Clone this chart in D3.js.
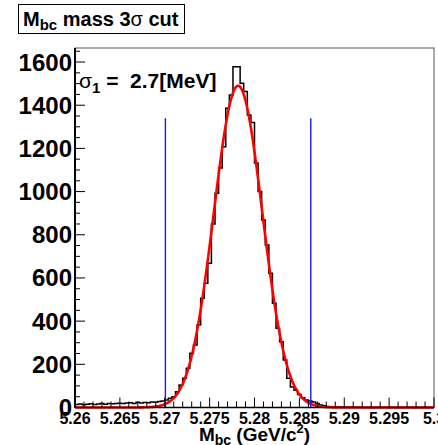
<!DOCTYPE html>
<html>
<head>
<meta charset="utf-8">
<script src="https://cdn.jsdelivr.net/npm/d3@7"></script>
<style>
  body { margin: 0; background: #fff; }
  svg { display: block; font-family: "Liberation Sans", Arial, sans-serif; }
</style>
</head>
<body>
<svg id="chart"></svg>
<script>
// Mbc histogram, 100 bins from 5.26 to 5.30 GeV/c^2
var binStart = 5.26,
  binWidth = 0.0004;
var counts = [
  14, 16, 13, 15, 17, 14, 16, 18, 15, 19,
  17, 18, 20, 18, 21, 22, 19, 24, 21, 23,
  22, 26, 24, 28, 30, 35, 43, 50, 73, 104,
  135, 182, 251, 289, 382, 506, 575, 668, 850, 992,
  1109, 1208, 1386, 1447, 1578, 1578, 1502, 1463, 1355, 1320,
  1132, 1000, 868, 753, 622, 483, 367, 305, 220, 135,
  95, 80, 60, 45, 35, 30, 25, 18, 12, 8,
  5, 4, 3, 3, 2, 2, 1, 2, 1, 1,
  0, 1, 0, 0, 1, 0, 0, 0, 1, 0,
  0, 0, 0, 1, 0, 0, 0, 0, 0, 0
];

// gaussian fit result
var fitMean = 5.27817,
  fitSigma = 0.0027,
  fitAmp = 1490;

// 3 sigma cut window
var cutLines = [5.27007, 5.28627];
var cutHeight = 1340;

var xTickValues = [5.26, 5.265, 5.27, 5.275, 5.28, 5.285, 5.29, 5.295, 5.3];
var xTickLabels = ["5.26", "5.265", "5.27", "5.275", "5.28", "5.285", "5.29", "5.295", "5.3"];
var yTickValues = [0, 200, 400, 600, 800, 1000, 1200, 1400, 1600];

var width = 438,
  height = 445,
  margin = { top: 48, right: 4, bottom: 37.5, left: 75 };

var svg = d3.select("#chart").attr("width", width).attr("height", height);

var x = d3
  .scaleLinear()
  .domain([5.26, 5.3])
  .range([margin.left, width - margin.right]);

var y = d3
  .scaleLinear()
  .domain([0, 1665])
  .range([height - margin.bottom, margin.top]);

var x0 = x.range()[0],
  x1 = x.range()[1],
  y0 = y.range()[0],
  y1 = y.range()[1];

// frame
svg
  .append("rect")
  .attr("x", x0)
  .attr("y", y1)
  .attr("width", x1 - x0)
  .attr("height", y0 - y1)
  .attr("fill", "#fff")
  .attr("stroke", "#555")
  .attr("stroke-width", 1);

// histogram outline
var bins = counts.map(function(c, i) {
  return { lo: binStart + i * binWidth, hi: binStart + (i + 1) * binWidth, n: c };
});
var histPath = "M" + x(bins[0].lo) + "," + y(0);
bins.forEach(function(b) {
  histPath += "L" + x(b.lo) + "," + y(b.n) + "L" + x(b.hi) + "," + y(b.n);
});
histPath += "L" + x(bins[bins.length - 1].hi) + "," + y(0);

svg
  .append("path")
  .attr("d", histPath)
  .attr("fill", "none")
  .attr("stroke", "#000")
  .attr("stroke-width", 1.5);

// fit curve
var fitX = d3.range(5.26, 5.30001, 0.00005);
var line = d3
  .line()
  .x(function(d) { return x(d); })
  .y(function(d) {
    var t = (d - fitMean) / fitSigma;
    return y(fitAmp * Math.exp(-0.5 * t * t));
  });

svg
  .append("path")
  .datum(fitX)
  .attr("d", line)
  .attr("fill", "none")
  .attr("stroke", "#ff0000")
  .attr("stroke-width", 2.6);

// cut lines
svg
  .selectAll(".cut")
  .data(cutLines)
  .enter()
  .append("line")
  .attr("class", "cut")
  .attr("x1", function(d) { return x(d); })
  .attr("x2", function(d) { return x(d); })
  .attr("y1", y(0))
  .attr("y2", y(cutHeight))
  .attr("stroke", "#1a1aff")
  .attr("stroke-width", 1.4);

// y axis
svg
  .append("line")
  .attr("x1", x0)
  .attr("x2", x0)
  .attr("y1", y1)
  .attr("y2", y0)
  .attr("stroke", "#000")
  .attr("stroke-width", 2);

svg
  .selectAll(".ytick")
  .data(d3.range(0, 1651, 50))
  .enter()
  .append("line")
  .attr("x1", x0)
  .attr("x2", function(d) { return x0 + (d % 200 === 0 ? 10 : 5); })
  .attr("y1", function(d) { return y(d); })
  .attr("y2", function(d) { return y(d); })
  .attr("stroke", "#000")
  .attr("stroke-width", 1);

svg
  .selectAll(".ylab")
  .data(yTickValues)
  .enter()
  .append("text")
  .attr("x", x0 - 3)
  .attr("y", function(d) { return y(d) + 8.5; })
  .attr("text-anchor", "end")
  .attr("font-size", 24)
  .attr("font-weight", "bold")
  .text(function(d) { return d; });

// x axis
svg
  .append("line")
  .attr("x1", x0)
  .attr("x2", x1)
  .attr("y1", y0)
  .attr("y2", y0)
  .attr("stroke", "#000")
  .attr("stroke-width", 1.5);

svg
  .selectAll(".xtick")
  .data(d3.range(0, 41))
  .enter()
  .append("line")
  .attr("x1", function(d) { return x(5.26 + d * 0.001); })
  .attr("x2", function(d) { return x(5.26 + d * 0.001); })
  .attr("y1", y0)
  .attr("y2", function(d) { return y0 - (d % 5 === 0 ? 10 : 6); })
  .attr("stroke", "#000")
  .attr("stroke-width", 1);

svg
  .selectAll(".xlab")
  .data(xTickValues)
  .enter()
  .append("text")
  .attr("x", function(d) { return x(d); })
  .attr("y", y0 + 16)
  .attr("text-anchor", "middle")
  .attr("font-size", 16)
  .attr("font-weight", "bold")
  .text(function(d, i) { return xTickLabels[i]; });

// x axis title
var xt = svg
  .append("text")
  .attr("x", (x0 + x1) / 2)
  .attr("y", 441)
  .attr("text-anchor", "middle")
  .attr("font-size", 19)
  .attr("font-weight", "bold");
xt.append("tspan").text("M");
xt.append("tspan").attr("font-size", 14).attr("dy", 4).text("bc");
xt.append("tspan").attr("dy", -4).text(" (GeV/c");
xt.append("tspan").attr("font-size", 13).attr("dy", -8).text("2");
xt.append("tspan").attr("dy", 8).text(")");

// sigma label
var sl = svg
  .append("text")
  .attr("x", 79)
  .attr("y", 88)
  .attr("font-size", 21)
  .attr("font-weight", "bold");
sl.append("tspan").attr("font-weight", "normal").text("σ");
sl.append("tspan").attr("font-size", 15).attr("dy", 5).text("1");
sl.append("tspan").attr("dy", -5).attr("xml:space", "preserve").text(" =  2.7[MeV]");

// title box
svg
  .append("rect")
  .attr("x", 18.5)
  .attr("y", 4.5)
  .attr("width", 166)
  .attr("height", 29)
  .attr("fill", "#fff")
  .attr("stroke", "#000")
  .attr("stroke-width", 1);

var tt = svg
  .append("text")
  .attr("x", 23)
  .attr("y", 26)
  .attr("font-size", 20)
  .attr("font-weight", "bold");
tt.append("tspan").text("M");
tt.append("tspan").attr("font-size", 15).attr("dy", 4).text("bc");
tt.append("tspan").attr("dy", -4).text(" mass 3");
tt.append("tspan").attr("font-weight", "normal").text("σ");
tt.append("tspan").text(" cut");
</script>
</body>
</html>
